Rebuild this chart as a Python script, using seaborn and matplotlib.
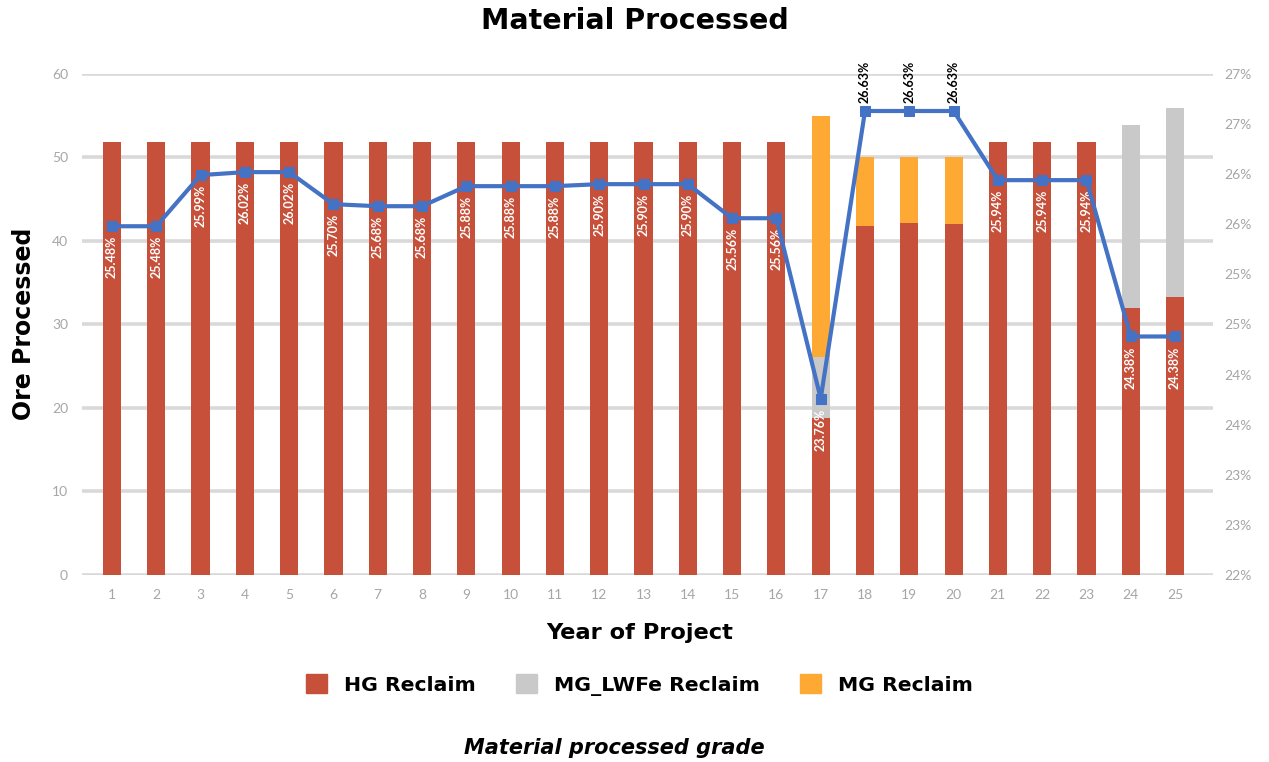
import numpy as np
import pandas as pd
import seaborn as sns
import matplotlib.pyplot as plt
from matplotlib.patches import Patch

# Datos
years = [str(i) for i in range(1, 26)]
hg_reclaim = [51.8] * 16 + [18.8, 41.8, 42.1, 42.0, 51.8, 51.8, 51.8, 32.0, 33.3]
mg_lwfe_reclaim = [0] * 16 + [7.3, 0, 0, 0, 0, 0, 0, 21.9, 22.6]
mg_reclaim = [0] * 16 + [28.9, 8.2, 8.0, 8.1, 0, 0, 0, 0, 0]
grade = [25.48, 25.48, 25.99, 26.02, 26.02, 25.70, 25.68, 25.68, 25.88, 25.88,
         25.88, 25.90, 25.90, 25.90, 25.56, 25.56, 23.76, 26.63, 26.63, 26.63,
         25.94, 25.94, 25.94, 24.38, 24.38]
right_ticks = [22.0, 22.5, 23.0, 23.5, 24.0, 24.5, 25.0, 25.5, 26.0, 26.5, 27.0]
right_labels = ["22%", "23%", "23%", "24%", "24%", "25%", "25%", "26%", "26%", "27%", "27%"]
left_ticks = [0, 10, 20, 30, 40, 50, 60]

df = pd.DataFrame({"Year": years, "HG": hg_reclaim, "LW": mg_lwfe_reclaim, "MG": mg_reclaim})
df["HG_LW"] = df["HG"] + df["LW"]
df["Total"] = df["HG_LW"] + df["MG"]

c_hg, c_lw, c_mg, c_line = "#C65039", "#C9C9C9", "#FFA935", "#4472C4"
grid_c = "#D9D9D9"
tick_c = "#A6A6A6"

sns.set_theme(style="white")
plt.rcParams["font.family"] = ["DejaVu Sans"]
plt.rcParams["text.color"] = "black"

fig = plt.figure(figsize=(12.69, 7.62), dpi=100)
ax = fig.add_axes([0.0646, 0.2454, 0.8914, 0.6576])

# Barras apiladas (total primero, luego parciales encima)
bar_kw = dict(width=0.41, saturation=1, ax=ax, zorder=2, linewidth=0, edgecolor="none")
sns.barplot(data=df, x="Year", y="Total", color=c_mg, **bar_kw)
sns.barplot(data=df, x="Year", y="HG_LW", color=c_lw, **bar_kw)
sns.barplot(data=df, x="Year", y="HG", color=c_hg, **bar_kw)

ax.set_ylim(0, 60)
ax.set_xlim(-0.677, 24.86)
ax.set_yticks(left_ticks)
for t in left_ticks:
    ax.axhline(t, color=grid_c, lw=2.6, zorder=0)
for s in ax.spines.values():
    s.set_visible(False)
ax.tick_params(axis="both", length=0, labelsize=10, labelcolor=tick_c, pad=10)
for lab in ax.get_xticklabels() + ax.get_yticklabels():
    lab.set_family("Lato")
ax.set_xlabel("")
ax.set_ylabel("")

# Linea de ley en eje secundario
ax2 = ax.twinx()
sns.lineplot(x=np.arange(25), y=grade, ax=ax2, color=c_line, lw=3, marker="s",
             markersize=6.5, markeredgecolor=c_line, zorder=5)
ax2.set_ylim(22, 27)
ax2.set_yticks(right_ticks)
ax2.set_yticklabels(right_labels, family="Lato")
for s in ax2.spines.values():
    s.set_visible(False)
ax2.tick_params(axis="y", length=0, labelsize=10, labelcolor=tick_c, pad=8)
ax2.grid(False)

for i, g in enumerate(grade):
    txt = f"{g:.2f}%"
    if 17 <= i <= 19:
        ax2.annotate(txt, (i, g), xytext=(0, 6), textcoords="offset points",
                     rotation=90, ha="center", va="bottom", fontsize=9,
                     fontweight="bold", color="black", family="Lato")
    else:
        ax2.annotate(txt, (i, g), xytext=(0, -7), textcoords="offset points",
                     rotation=90, ha="center", va="top", fontsize=9,
                     fontweight="bold", color="white", family="Lato")

fig.text(0.5, 0.973, "Material Processed", ha="center", va="center",
         fontsize=20.5, fontweight="bold", color="black")
fig.text(0.019, 0.575, "Ore Processed", ha="center", va="center", rotation=90,
         fontsize=17, fontweight="bold", color="black")
fig.text(0.504, 0.169, "Year of Project", ha="center", va="center",
         fontsize=16.2, fontweight="bold", color="black")

handles = [Patch(color=c_hg, label="HG Reclaim"),
           Patch(color=c_lw, label="MG_LWFe Reclaim"),
           Patch(color=c_mg, label="MG Reclaim")]
fig.legend(handles=handles, loc="center", bbox_to_anchor=(0.504, 0.101), ncol=3,
           frameon=False, prop={"size": 14.7, "weight": "bold"}, handlelength=1.0,
           handleheight=1.0, columnspacing=2.0, handletextpad=0.83,
           labelcolor="black")

fig.text(0.484, 0.019, "Material processed grade", ha="center", va="center",
         fontsize=15, fontweight="bold", style="italic", color="black")

fig.savefig("out.png", dpi=100)
